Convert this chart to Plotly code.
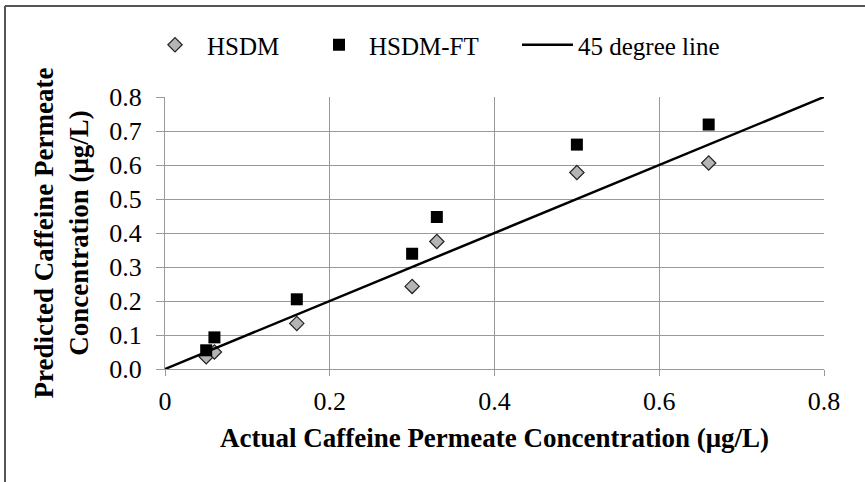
import plotly.graph_objects as go

# Data
actual = [0.05, 0.06, 0.16, 0.30, 0.33, 0.50, 0.66]
hsdm = [0.036, 0.050, 0.134, 0.243, 0.375, 0.578, 0.606]
hsdm_ft = [0.055, 0.093, 0.205, 0.339, 0.447, 0.660, 0.719]
line_x = [0, 0.8]
line_y = [0, 0.8]

FONT = "Liberation Serif, Times New Roman, serif"
FS = 25
FS_TICK = 26
FS_TITLE = 27
W, H = 865, 482
LEG_Y = 1 - 45 / H

fig = go.Figure()
fig.add_trace(go.Scatter(
    x=actual, y=hsdm, mode="markers", name="HSDM", legend="legend",
    marker=dict(symbol="diamond", size=11, color="#b4b4b4",
                line=dict(color="#222222", width=1.2))))
fig.add_trace(go.Scatter(
    x=actual, y=hsdm_ft, mode="markers", name="HSDM-FT", legend="legend2",
    marker=dict(symbol="square", size=12, color="black",
                line=dict(color="black", width=0))))
fig.add_trace(go.Scatter(
    x=line_x, y=line_y, mode="lines", name="45 degree line", legend="legend3",
    line=dict(color="black", width=2.5)))

def leg(xpx, iw):
    return dict(orientation="h", xref="container", x=xpx / W, xanchor="left",
                yref="container", y=LEG_Y, yanchor="middle",
                font=dict(family=FONT, size=FS), itemwidth=iw,
                bgcolor="rgba(0,0,0,0)", borderwidth=0)

fig.update_layout(
    width=W, height=H,
    margin=dict(l=165, r=41, t=97, b=113, autoexpand=False),
    paper_bgcolor="white", plot_bgcolor="white",
    font=dict(family=FONT, size=FS, color="black"),
    showlegend=True,
    legend=leg(175 - 32, 54),
    legend2=leg(341 - 32, 50),
    legend3=leg(522 - 5, 51),
    xaxis=dict(range=[0, 0.8], dtick=0.2, tick0=0,
               showgrid=True, gridcolor="#999999", gridwidth=1,
               showline=True, linecolor="#999999", linewidth=1,
               ticks="outside", ticklen=6, tickcolor="#999999",
               ticklabelstandoff=3,
               zeroline=False,
               title=dict(text="<b>Actual Caffeine Permeate Concentration (μg/L)</b>",
                          font=dict(family=FONT, size=FS_TITLE), standoff=12),
               tickfont=dict(family=FONT, size=FS_TICK)),
    yaxis=dict(range=[0, 0.8], dtick=0.1, tick0=0, tickformat=".1f",
               showgrid=True, gridcolor="#999999", gridwidth=1,
               showline=True, linecolor="#999999", linewidth=1,
               ticks="outside", ticklen=8, tickcolor="#999999",
               ticklabelstandoff=9,
               zeroline=False,
               title=dict(text="<b>Predicted Caffeine Permeate<br>Concentration (μg/L)</b>",
                          font=dict(family=FONT, size=FS_TITLE), standoff=12),
               tickfont=dict(family=FONT, size=FS_TICK)),
)

# chart-area border (partially visible: left and top)
fig.add_shape(type="line", xref="paper", yref="paper",
              x0=-0.2428, x1=-0.2428, y0=1.3346, y1=-0.42,
              line=dict(color="#555555", width=2))
fig.add_shape(type="line", xref="paper", yref="paper",
              x0=-0.2428, x1=1.07, y0=1.3346, y1=1.3346,
              line=dict(color="#555555", width=2))

fig.write_html("out.html")
